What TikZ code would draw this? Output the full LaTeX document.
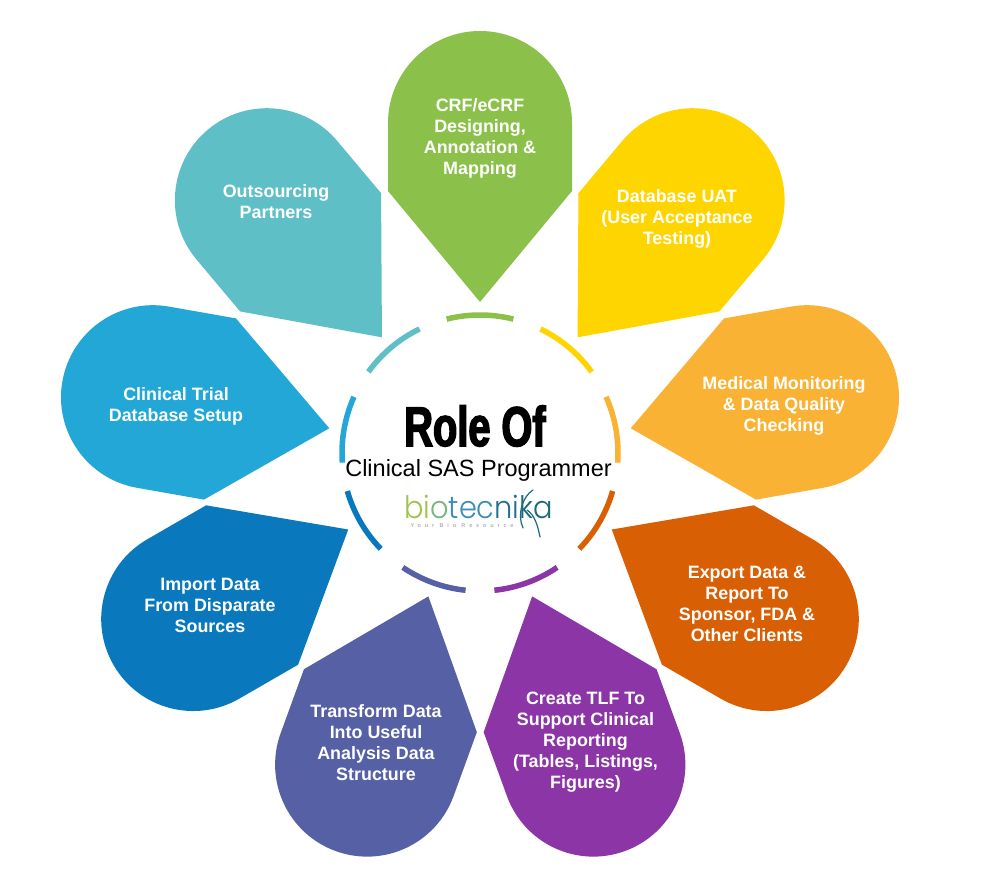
\documentclass[tikz,border=0pt]{standalone}
\usepackage{fontspec}
\setmainfont{Liberation Sans}
\newfontfamily\titlefont[FakeBold=2.6,FakeStretch=0.71]{Liberation Sans Bold}
\newfontfamily\logofont{Poppins Light}
\newfontfamily\tagfont[LetterSpace=70]{Liberation Sans Bold}
\definecolor{cgreen}{HTML}{8BC14A}
\definecolor{cyellow}{HTML}{FFD500}
\definecolor{corange}{HTML}{F9B233}
\definecolor{cdorange}{HTML}{D95F05}
\definecolor{cpurple}{HTML}{8C35A6}
\definecolor{cviolet}{HTML}{5560A5}
\definecolor{cblue}{HTML}{0A78BC}
\definecolor{clblue}{HTML}{22A7D6}
\definecolor{cteal}{HTML}{5FBFC6}
\definecolor{logoa}{HTML}{9DC34A}
\definecolor{logob}{HTML}{78B57A}
\definecolor{logoc}{HTML}{3A8DB5}
\definecolor{logod}{HTML}{1F6F8F}
\definecolor{logoe}{HTML}{1A6A78}
\tikzset{
  petal label/.style={text=white,align=center,font=\fontsize{17.9}{21}\selectfont\bfseries},
  ring arc/.style={line width=5.5pt},
  swoosh/.style={draw=logoe,line width=1.2pt,line cap=round}
}
\newcommand{\petal}[4]{%
  \fill[#2,shift={(#3,#4)},rotate around={-#1:(480,453)}] (480,302) -- (388,191) -- (388,123)
    arc[start angle=180,end angle=360,radius=92] -- (572,191) -- cycle;
  \draw[ring arc,#2] ({480+138*sin(#1-14)},{453-138*cos(#1-14)})
    arc[start angle={#1-14-90},end angle={#1+14-90},radius=138];
}
\begin{document}
\begin{tikzpicture}[x=1pt,y=-1pt]
\useasboundingbox (0,0) rectangle (990,889);
\fill[white] (0,0) rectangle (990,889);
\petal{0}{cgreen}{0}{0}
\petal{40}{cyellow}{0.5}{0}
\petal{80}{corange}{2}{1.5}
\petal{120}{cdorange}{1}{1}
\petal{160}{cpurple}{0.5}{1.5}
\petal{200}{cviolet}{0}{1.5}
\petal{240}{cblue}{-1}{1}
\petal{280}{clblue}{-2}{1.5}
\petal{320}{cteal}{-1}{0}
\node[petal label] (crf) at (480,138) {CRF/eCRF\\Designing,\\Annotation \&\\Mapping};
\node[petal label] (uat) at (677,218.5) {Database UAT\\(User Acceptance\\Testing)};
\node[petal label] (med) at (784,406) {Medical Monitoring\\\& Data Quality\\Checking};
\node[petal label] (exp) at (747,604) {Export Data \&\\Report To\\Sponsor, FDA \&\\Other Clients};
\node[petal label] (tlf) at (585.5,742) {Create TLF To\\Support Clinical\\Reporting\\(Tables, Listings,\\Figures)};
\node[petal label] (tra) at (376,743) {Transform Data\\Into Useful\\Analysis Data\\Structure};
\node[petal label] (imp) at (210,605) {Import Data\\From Disparate\\Sources};
\node[petal label] (ctd) at (176,406) {Clinical Trial\\Database Setup};
\node[petal label] (out) at (276,202) {Outsourcing\\Partners};
\node[inner sep=0pt,font=\fontsize{56}{56}\titlefont] (role) at (475,426) {Role Of};
\node[inner sep=0pt,font=\fontsize{23.5}{26}\selectfont] (sas) at (478.5,470) {Clinical SAS Programmer};
\node[inner sep=0pt,anchor=base west,xscale=0.93,font=\fontsize{31}{31}\logofont] (logo) at (404,518) {\textcolor{logoa}{bi}\textcolor{logob}{o}\textcolor{logoc}{tec}\textcolor{logod}{ni}\textcolor{logoe}{ka}};
\node[inner sep=0pt,font=\fontsize{5.5}{6}\tagfont,text=black!30] (tag) at (462,526) {Your Bio Resource};
\coordinate (swa) at (533,490);
\coordinate (swb) at (523,528);
\coordinate (swc) at (527,510);
\coordinate (swd) at (540,537);
\draw[swoosh] (swa) .. controls (522,497) and (517,515) .. (swb);
\draw[swoosh] (swc) .. controls (535,515) and (538,527) .. (swd);
\end{tikzpicture}
\end{document}
